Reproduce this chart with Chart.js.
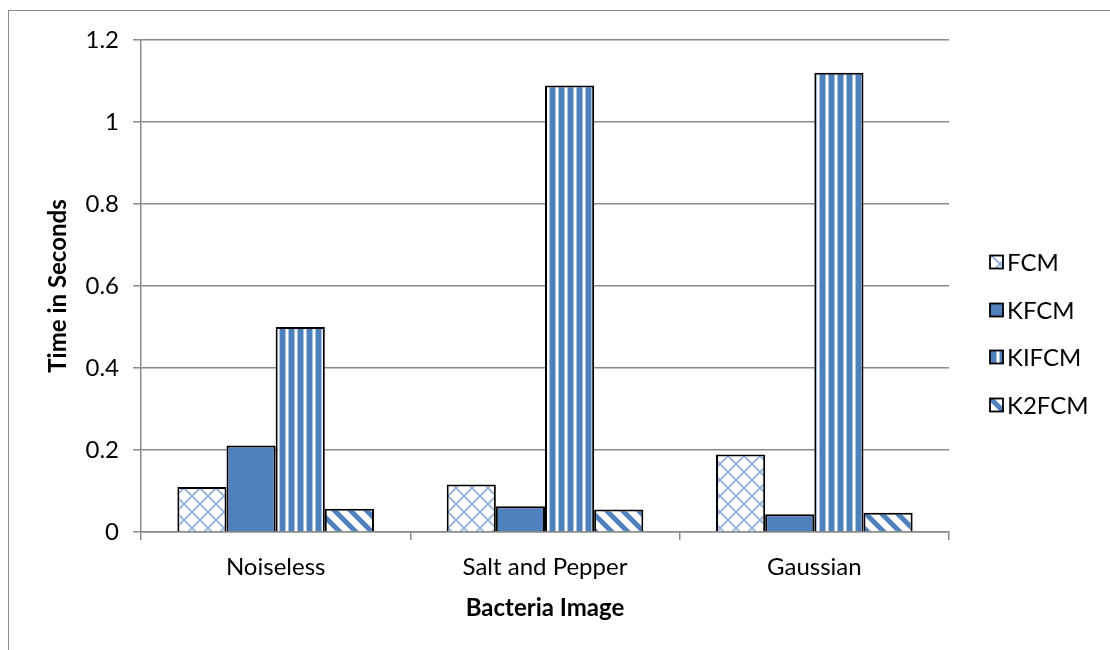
<!DOCTYPE html>
<html>
<head>
<meta charset="utf-8">
<script src="https://cdn.jsdelivr.net/npm/chart.js@4.4.0/dist/chart.umd.min.js"></script>
<style>
html, body { margin: 0; padding: 0; background: #fff; }
#wrap { position: relative; width: 1110px; height: 650px; overflow: hidden; }
#frame { position: absolute; left: 8px; top: 10px; width: 1200px; height: 800px;
         border-left: 1px solid #8c8c8c; border-top: 1px solid #8c8c8c; }
#chart { position: absolute; left: 0; top: 0; }
</style>
</head>
<body>
<div id="wrap">
  <div id="frame"></div>
  <canvas id="chart" width="1110" height="650"></canvas>
</div>
<script>
// Data
const categories = ['Noiseless', 'Salt and Pepper', 'Gaussian'];
const seriesNames = ['FCM', 'KFCM', 'KIFCM', 'K2FCM'];
const fcmTimes = [0.110, 0.116, 0.189];
const kfcmTimes = [0.211, 0.063, 0.043];
const kifcmTimes = [0.500, 1.089, 1.120];
const k2fcmTimes = [0.057, 0.055, 0.047];
const yMax = 1.2;
const yStep = 0.2;

const BLUE = '#4f81bd';
const LIGHT_BLUE = '#8fb0d9';
const AXIS_GREY = '#898989';
const FONT = 'Lato, "Open Sans", sans-serif';

// Hatch patterns (Excel-like fills)
function crossPattern() {
    const c = document.createElement('canvas');
    c.width = 16; c.height = 16;
    const ctx = c.getContext('2d');
    ctx.fillStyle = '#fff';
    ctx.fillRect(0, 0, 16, 16);
    ctx.strokeStyle = LIGHT_BLUE;
    ctx.lineWidth = 1.8;
    ctx.beginPath();
    ctx.moveTo(-2, -2); ctx.lineTo(18, 18);
    ctx.moveTo(18, -2); ctx.lineTo(-2, 18);
    ctx.stroke();
    return ctx.createPattern(c, 'repeat');
}

function stripePattern() {
    const c = document.createElement('canvas');
    c.width = 9; c.height = 4;
    const ctx = c.getContext('2d');
    ctx.fillStyle = '#fff';
    ctx.fillRect(0, 0, 9, 4);
    ctx.fillStyle = '#a9c1e0';
    ctx.fillRect(0, 0, 1, 4);
    ctx.fillRect(6, 0, 1, 4);
    ctx.fillStyle = BLUE;
    ctx.fillRect(1, 0, 5, 4);
    return ctx.createPattern(c, 'repeat');
}

function diagPattern() {
    const c = document.createElement('canvas');
    c.width = 16; c.height = 16;
    const ctx = c.getContext('2d');
    ctx.fillStyle = '#fff';
    ctx.fillRect(0, 0, 16, 16);
    ctx.strokeStyle = BLUE;
    ctx.lineWidth = 5;
    ctx.beginPath();
    [-16, 0, 16].forEach(k => {
        ctx.moveTo(-4 + k, -4); ctx.lineTo(20 + k, 20);
    });
    ctx.stroke();
    return ctx.createPattern(c, 'repeat');
}

const fills = [crossPattern(), BLUE, stripePattern(), diagPattern()];
const values = [fcmTimes, kfcmTimes, kifcmTimes, k2fcmTimes];

// Legend drawn by hand so it sits where Excel put it
const sideLegend = {
    id: 'sideLegend',
    afterDraw(chart) {
        const ctx = chart.ctx;
        const x = 990, y0 = 262, step = 47.5, box = 13;
        ctx.save();
        ctx.font = '24px ' + FONT;
        ctx.textBaseline = 'middle';
        chart.data.datasets.forEach((ds, i) => {
            const y = Math.round(y0 + i * step);
            ctx.fillStyle = ds.backgroundColor;
            ctx.fillRect(x, y - 6.5, box, box);
            ctx.strokeStyle = '#000';
            ctx.lineWidth = 1.8;
            ctx.strokeRect(x, y - 6.5, box, box);
            ctx.fillStyle = '#000';
            ctx.fillText(ds.label, x + box + 4, y + 1);
        });
        ctx.restore();
    }
};

new Chart(document.getElementById('chart'), {
    type: 'bar',
    data: {
        labels: categories,
        datasets: seriesNames.map((name, i) => ({
            label: name,
            data: values[i],
            backgroundColor: fills[i],
            borderColor: '#000',
            borderWidth: 2,
            categoryPercentage: 0.73,
            barPercentage: 1.0
        }))
    },
    options: {
        responsive: false,
        animation: false,
        layout: { padding: { left: 44, right: 161, top: 40, bottom: 14 } },
        plugins: {
            legend: { display: false },
            tooltip: { enabled: false }
        },
        scales: {
            x: {
                z: 1,
                grid: { drawOnChartArea: false, color: AXIS_GREY, tickLength: 8, lineWidth: 1.5 },
                border: { color: AXIS_GREY, width: 1.5 },
                ticks: { color: '#000', font: { family: FONT, size: 24 }, padding: 13 },
                title: {
                    display: true, text: 'Bacteria Image', color: '#000',
                    font: { family: FONT, size: 24, weight: 'bold' },
                    padding: { top: 0, bottom: 13 }
                },
                afterFit(s) { s.height = 650 - 14 - 532; }
            },
            y: {
                min: 0, max: yMax,
                ticks: {
                    stepSize: yStep, color: '#000', font: { family: FONT, size: 24 }, padding: 14,
                    callback: v => String(+v.toFixed(1))
                },
                grid: { color: AXIS_GREY, tickLength: 8, lineWidth: 1.5 },
                border: { color: AXIS_GREY, width: 1.5 },
                title: {
                    display: true, text: 'Time in Seconds', color: '#000',
                    font: { family: FONT, size: 24, weight: 'bold' },
                    padding: { top: 0, bottom: 0 }
                },
                afterFit(s) { s.width = 141 - 44; }
            }
        }
    },
    plugins: [sideLegend]
});
</script>
</body>
</html>
